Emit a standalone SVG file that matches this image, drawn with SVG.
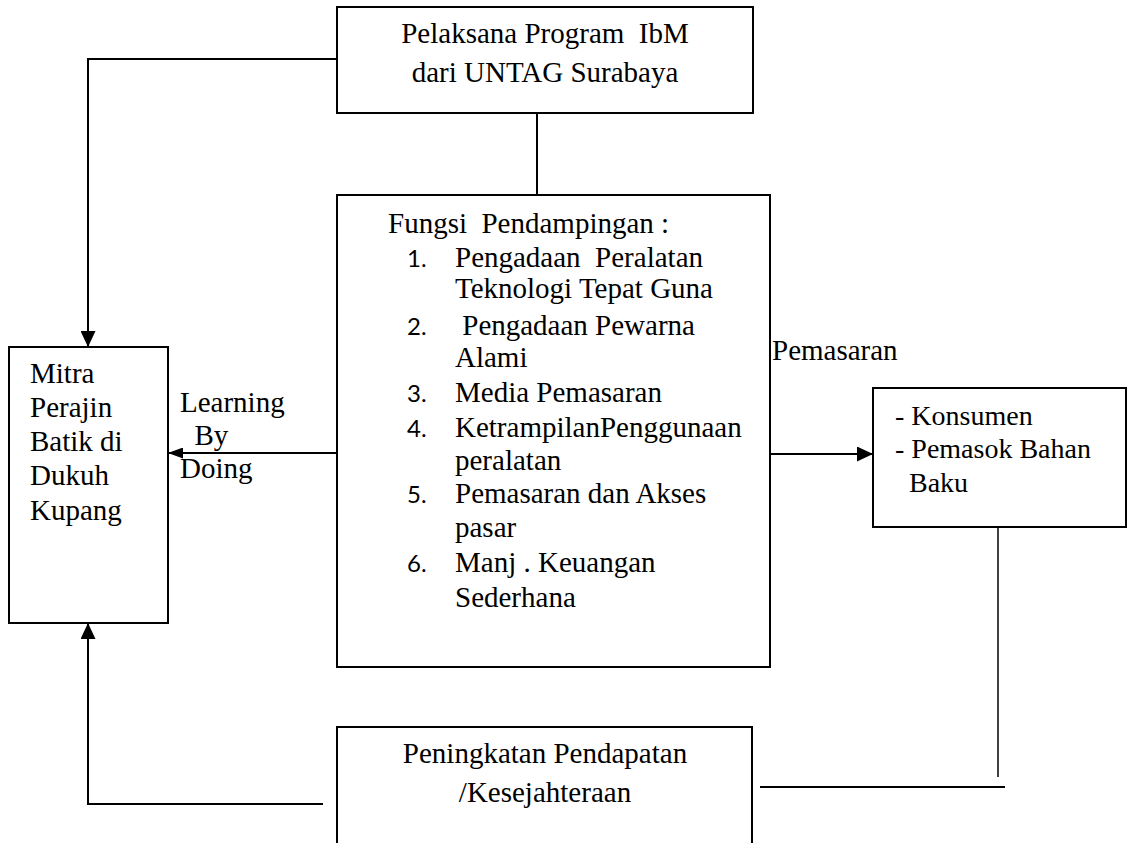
<svg xmlns="http://www.w3.org/2000/svg" width="1127" height="843" viewBox="0 0 1127 843">
<defs>
<marker id="ahL" markerWidth="16" markerHeight="15" refX="16" refY="7.5" orient="auto" markerUnits="userSpaceOnUse"><path d="M0,0 L16,7.5 L0,15 z" fill="#000"/></marker>
<marker id="ahS" markerWidth="15" markerHeight="11" refX="15" refY="5.5" orient="auto" markerUnits="userSpaceOnUse"><path d="M0,0 L15,5.5 L0,11 z" fill="#000"/></marker>
</defs>
<style>
.box{fill:#fff;stroke:#000;stroke-width:2}
.c{text-anchor:middle}
.ln{fill:none;stroke:#000;stroke-width:2}
</style>
<g id="connectors">
<path class="ln" d="M337,59 H88 V347" marker-end="url(#ahL)"/>
<path class="ln" d="M537,113 V195"/>
<path class="ln" d="M337,453 H168" marker-end="url(#ahS)"/>
<path class="ln" d="M753,454 H873" marker-end="url(#ahL)"/>
<path class="ln" d="M998,518 V777" style="stroke-width:1.5"/>
<path class="ln" d="M760,787 H1005"/>
<path class="ln" d="M323,804 H88 V623" marker-end="url(#ahL)"/>
</g>
<g font-family="Liberation Serif, Times New Roman, serif" font-size="29" fill="#000">
<g id="node-pelaksana">
<rect class="box" x="337" y="7" width="416" height="106"/>
<text class="c" x="545" y="43" xml:space="preserve">Pelaksana Program  IbM</text>
<text class="c" x="545" y="82">dari UNTAG Surabaya</text>
</g>
<g id="node-mitra">
<rect class="box" x="9" y="347" width="159" height="276"/>
<text x="30" y="383">Mitra</text>
<text x="30" y="417">Perajin</text>
<text x="30" y="451">Batik di</text>
<text x="30" y="485">Dukuh</text>
<text x="30" y="520">Kupang</text>
</g>
<g id="label-learning">
<text x="180" y="412">Learning</text>
<text x="180" y="445" xml:space="preserve">  By</text>
<text x="180" y="478">Doing</text>
</g>
<g id="node-fungsi">
<rect class="box" x="337" y="195" width="433" height="472"/>
<text x="388" y="233" xml:space="preserve">Fungsi  Pendampingan :</text>
<g font-family="Lato, Liberation Sans, sans-serif" font-size="24">
<text x="407" y="267">1.</text>
<text x="407" y="335">2.</text>
<text x="407" y="402">3.</text>
<text x="407" y="437">4.</text>
<text x="407" y="503">5.</text>
<text x="407" y="572">6.</text>
</g>
<text x="455" y="267" xml:space="preserve">Pengadaan  Peralatan</text>
<text x="455" y="298">Teknologi Tepat Guna</text>
<text x="455" y="335" xml:space="preserve"> Pengadaan Pewarna</text>
<text x="455" y="367">Alami</text>
<text x="455" y="402">Media Pemasaran</text>
<text x="455" y="437">KetrampilanPenggunaan</text>
<text x="455" y="470">peralatan</text>
<text x="455" y="503">Pemasaran dan Akses</text>
<text x="455" y="537">pasar</text>
<text x="455" y="572">Manj . Keuangan</text>
<text x="455" y="607">Sederhana</text>
</g>
<g id="label-pemasaran">
<text x="772" y="360">Pemasaran</text>
</g>
<g id="node-konsumen" font-size="28">
<rect class="box" x="873" y="388" width="253" height="139"/>
<text x="895" y="425">- Konsumen</text>
<text x="895" y="458">- Pemasok Bahan</text>
<text x="895" y="492" xml:space="preserve">  Baku</text>
</g>
<g id="node-peningkatan">
<rect class="box" x="337" y="727" width="415" height="130"/>
<text class="c" x="545" y="763">Peningkatan Pendapatan</text>
<text class="c" x="545" y="802">/Kesejahteraan</text>
</g>
</g>
</svg>
